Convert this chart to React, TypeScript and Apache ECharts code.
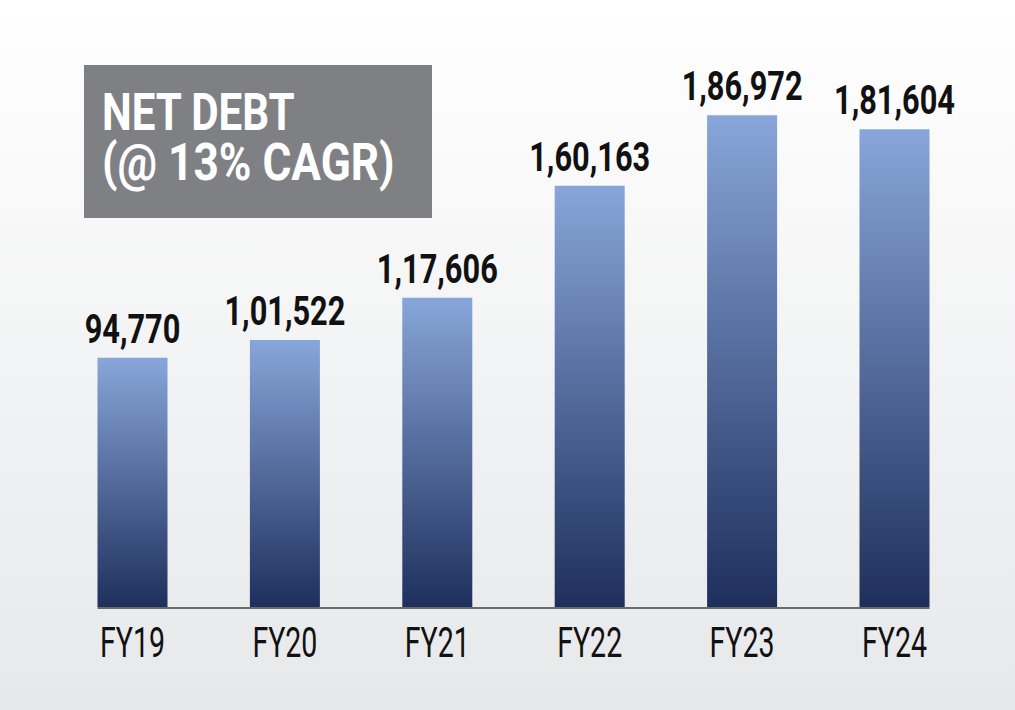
import React, { useEffect, useRef } from "react";
import * as echarts from "echarts";

const categories = ["FY19", "FY20", "FY21", "FY22", "FY23", "FY24"];
const netDebt = [94770, 101522, 117606, 160163, 186972, 181604];
const titleLines = ["NET DEBT", "(@ 13% CAGR)"];

function formatIndian(v: number): string {
  const s = String(Math.round(v));
  if (s.length <= 3) return s;
  const last3 = s.slice(-3);
  let rest = s.slice(0, -3);
  const parts: string[] = [];
  while (rest.length > 2) {
    parts.unshift(rest.slice(-2));
    rest = rest.slice(0, -2);
  }
  if (rest) parts.unshift(rest);
  return parts.join(",") + "," + last3;
}

export default function App() {
  const ref = useRef<HTMLDivElement>(null);
  useEffect(() => {
    if (!ref.current) return;
    const chart = echarts.init(ref.current, undefined, { renderer: "svg" });
    chart.setOption({
      animation: false,
      backgroundColor: new echarts.graphic.LinearGradient(0, 0, 0, 1, [
        { offset: 0, color: "#ffffff" },
        { offset: 1, color: "#e7e8ea" },
      ]),
      grid: { left: 56.3, right: 44.3, top: 77, bottom: 103, containLabel: false },
      xAxis: {
        type: "category",
        data: categories,
        axisLine: { show: false },
        axisTick: { show: false },
        axisLabel: { show: false },
      },
      yAxis: {
        type: "value",
        min: 0,
        max: 201500,
        show: false,
        splitLine: { show: false },
      },
      series: [
        {
          type: "bar",
          data: netDebt,
          barWidth: 70,
          itemStyle: {
            color: new echarts.graphic.LinearGradient(0, 0, 0, 1, [
              { offset: 0, color: "#88a6da" },
              { offset: 1, color: "#1e2f5c" },
            ]),
          },
        },
      ],
    });
    const xs = categories.map((c) => chart.convertToPixel({ xAxisIndex: 0 }, c) as number);
    const tops = netDebt.map((v) => chart.convertToPixel({ yAxisIndex: 0 }, v) as number);
    const y0 = chart.convertToPixel({ yAxisIndex: 0 }, 0) as number;
    const valueLabels = netDebt.map((v, i) => ({
      type: "text",
      x: xs[i],
      y: tops[i] - 29,
      scaleX: 0.75,
      z: 20,
      style: {
        text: formatIndian(v),
        fill: "#111111",
        font: "bold 41px Roboto",
        align: "center",
        verticalAlign: "middle",
      },
    }));
    const catLabels = categories.map((c, i) => ({
      type: "text",
      x: xs[i],
      y: y0 + 36,
      scaleX: 0.68,
      z: 20,
      style: {
        text: c,
        fill: "#111111",
        font: "42px Roboto",
        align: "center",
        verticalAlign: "middle",
      },
    }));
    chart.setOption({
      graphic: [
        {
          type: "line",
          shape: { x1: xs[0] - 35, y1: y0 + 1, x2: xs[xs.length - 1] + 35, y2: y0 + 1 },
          style: { stroke: "#6a6a6a", lineWidth: 2 },
          z: 10,
        },
        {
          type: "rect",
          shape: { x: 84, y: 65, width: 348, height: 153 },
          style: { fill: "#7f8084" },
        },
        {
          type: "text",
          x: 102,
          y: 112,
          scaleX: 0.81,
          style: {
            text: titleLines[0],
            fill: "#ffffff",
            font: "bold 52px Roboto",
            verticalAlign: "middle",
          },
        },
        {
          type: "text",
          x: 102,
          y: 162,
          scaleX: 0.85,
          style: {
            text: titleLines[1],
            fill: "#ffffff",
            font: "bold 52px Roboto",
            verticalAlign: "middle",
          },
        },
        ...valueLabels,
        ...catLabels,
      ],
    });
    return () => chart.dispose();
  }, []);
  return (
    <div
      ref={ref}
      style={{ position: "fixed", left: 0, top: 0, width: 1015, height: 710 }}
    />
  );
}
